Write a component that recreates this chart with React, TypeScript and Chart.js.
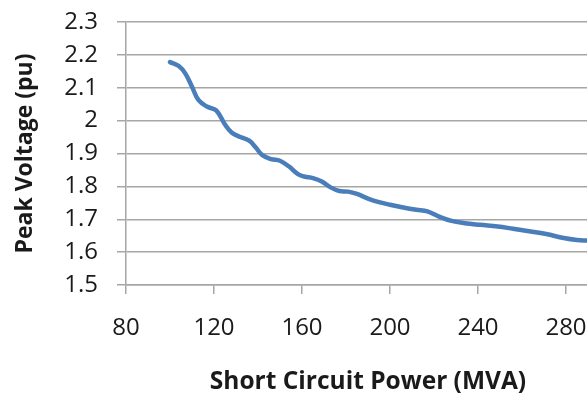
import React, { useEffect, useRef } from "react";
import { Chart, registerables } from "chart.js";

Chart.register(...registerables);

const powerMVA = [100, 104, 107, 110, 113, 117, 121, 125, 128, 132, 136, 139, 142, 146, 150, 154, 158, 161, 165, 169, 173, 177, 181, 185, 190, 195, 200, 206, 212, 217, 222, 228, 234, 241, 249, 256, 264, 271, 279, 285, 290, 300];
const peakVoltage = [2.178, 2.166, 2.143, 2.103, 2.062, 2.042, 2.031, 1.988, 1.964, 1.95, 1.939, 1.918, 1.895, 1.883, 1.878, 1.861, 1.838, 1.83, 1.825, 1.815, 1.797, 1.786, 1.784, 1.777, 1.763, 1.752, 1.744, 1.736, 1.729, 1.724, 1.709, 1.695, 1.688, 1.683, 1.678, 1.671, 1.663, 1.655, 1.643, 1.637, 1.635, 1.63];
const xTicks = [80, 120, 160, 200, 240, 280];
const yTicks = [1.5, 1.6, 1.7, 1.8, 1.9, 2, 2.1, 2.2, 2.3];
const yMin = 1.5;
const yMax = 2.3;
const xMin = 80;
const xMax = 300;

export default function App() {
  const ref = useRef<HTMLCanvasElement>(null);
  useEffect(() => {
    if (!ref.current) return;
    const font = "'Open Sans', 'DejaVu Sans', sans-serif";
    const chart = new Chart(ref.current, {
      type: "line",
      data: {
        datasets: [
          {
            data: powerMVA.map((x, i) => ({ x, y: peakVoltage[i] })),
            borderColor: "#4a7ebb",
            borderWidth: 4.5,
            borderCapStyle: "round",
            borderJoinStyle: "round",
            pointRadius: 0,
            tension: 0.4,
            fill: false,
          },
        ],
      },
      options: {
        responsive: false,
        animation: false,
        layout: { padding: { top: 22, left: 0, right: 20, bottom: 0 } },
        plugins: { legend: { display: false }, tooltip: { enabled: false } },
        scales: {
          x: {
            type: "linear",
            min: xMin,
            max: xMax,
            afterBuildTicks: (s: any) => {
              s.ticks = xTicks.map((v) => ({ value: v }));
            },
            afterFit: (s: any) => {
              s.height = 109;
              s.paddingLeft = 0;
              s.paddingRight = 0;
            },
            grid: {
              drawOnChartArea: false,
              drawTicks: true,
              tickLength: 9,
              color: "#a6a6a6",
              lineWidth: 1.5,
            },
            border: { display: true, color: "#a6a6a6", width: 1.5 },
            ticks: {
              color: "#1a1a1a",
              font: { family: font, size: 24 },
              padding: 20,
              maxRotation: 0,
              autoSkip: false,
            },
            title: {
              display: true,
              text: "Short Circuit Power (MVA)",
              color: "#1a1a1a",
              font: { family: font, size: 24.5, weight: "bold", lineHeight: 1.0 },
              padding: { top: 0, bottom: 0 },
            },
          },
          y: {
            min: yMin,
            max: yMax,
            afterBuildTicks: (s: any) => {
              s.ticks = yTicks.map((v) => ({ value: v }));
            },
            afterFit: (s: any) => {
              s.width = 126;
              s.paddingTop = 0;
              s.paddingBottom = 0;
            },
            ticks: {
              color: "#1a1a1a",
              font: { family: font, size: 24 },
              padding: 19,
              autoSkip: false,
              callback: (v: any) => String(Math.round(Number(v) * 10) / 10),
            },
            grid: {
              color: "#a6a6a6",
              lineWidth: 1.5,
              tickLength: 9,
            },
            border: { display: true, color: "#a6a6a6", width: 1.5 },
            title: {
              display: true,
              text: "Peak Voltage (pu)",
              color: "#1a1a1a",
              font: { family: font, size: 23, weight: "bold", lineHeight: 1.0 },
              padding: { top: 14, bottom: 0 },
            },
          },
        },
      },
    });
    return () => chart.destroy();
  }, []);
  return (
    <div style={{ position: "fixed", left: 0, top: 0, width: 587, height: 394, overflow: "hidden", background: "#fff" }}>
      <canvas ref={ref} width={630} height={394} style={{ display: "block", width: 630, height: 394 }} />
    </div>
  );
}
